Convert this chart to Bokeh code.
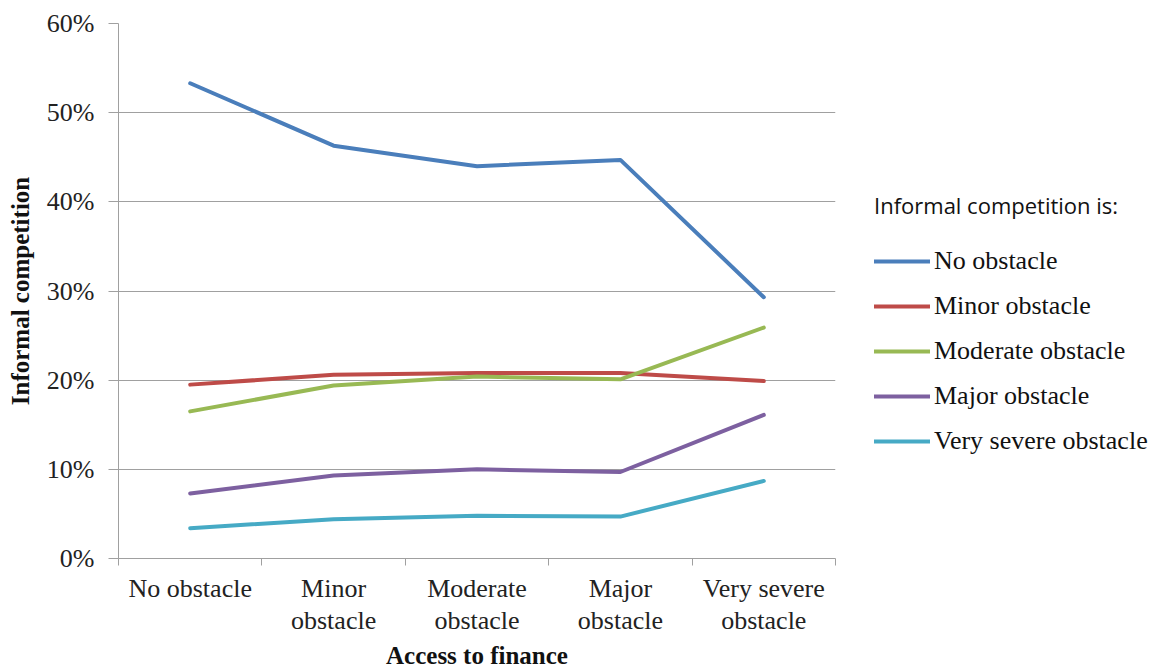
from bokeh.plotting import figure
from bokeh.models import (ColumnDataSource, Legend, LegendItem, FixedTicker,
                          NumeralTickFormatter, Range1d)
from bokeh.embed import file_html
from bokeh.resources import INLINE

categories = ["No obstacle", "Minor obstacle", "Moderate obstacle",
              "Major obstacle", "Very severe obstacle"]
tick_labels = ["No obstacle", "Minor\nobstacle", "Moderate\nobstacle",
               "Major\nobstacle", "Very severe\nobstacle"]
series_names = ["No obstacle", "Minor obstacle", "Moderate obstacle",
                "Major obstacle", "Very severe obstacle"]
no_obstacle = [0.533, 0.463, 0.440, 0.447, 0.293]
minor_obstacle = [0.195, 0.206, 0.208, 0.208, 0.199]
moderate_obstacle = [0.165, 0.194, 0.204, 0.201, 0.259]
major_obstacle = [0.073, 0.093, 0.100, 0.097, 0.161]
very_severe_obstacle = [0.034, 0.044, 0.048, 0.047, 0.087]
colors = ["#4A7EBB", "#BE4B48", "#98B954", "#7D60A0", "#46AAC5"]

values = [no_obstacle, minor_obstacle, moderate_obstacle, major_obstacle,
          very_severe_obstacle]
xpos = [i + 0.5 for i in range(len(categories))]

FL, FT, FW, FH = 118, 23, 717, 535
p = figure(frame_width=FW, frame_height=FH, output_backend="svg", toolbar_location=None,
           x_range=Range1d(0, len(categories)), y_range=Range1d(0, 0.6),
           min_border_left=FL, min_border_right=10,
           min_border_top=FT, min_border_bottom=100)
p.outline_line_color = None
p.background_fill_color = "white"
p.border_fill_color = "white"

serif = "Liberation Serif"
grid_col = "#a0a0a0"

# y axis
p.yaxis.ticker = FixedTicker(ticks=[0, 0.1, 0.2, 0.3, 0.4, 0.5, 0.6])
p.yaxis.formatter = NumeralTickFormatter(format="0%")
p.yaxis.axis_line_color = grid_col
p.yaxis.major_tick_line_color = grid_col
p.yaxis.major_tick_out = 10
p.yaxis.major_tick_in = 0
p.yaxis.minor_tick_line_color = None
p.yaxis.major_label_text_font = serif
p.yaxis.major_label_text_font_size = "26px"
p.yaxis.major_label_text_color = "#222222"
p.yaxis.major_label_standoff = 14
p.yaxis.axis_label = "Informal competition"
p.yaxis.axis_label_text_font = serif
p.yaxis.axis_label_text_font_style = "bold"
p.yaxis.axis_label_text_font_size = "25px"
p.yaxis.axis_label_text_color = "#111111"
p.yaxis.axis_label_standoff = 10

# x axis
p.xaxis.ticker = FixedTicker(ticks=xpos, minor_ticks=list(range(len(categories) + 1)))
p.xaxis.major_label_overrides = {x: lab for x, lab in zip(xpos, tick_labels)}
p.xaxis.axis_line_color = grid_col
p.xaxis.major_tick_line_color = None
p.xaxis.minor_tick_line_color = grid_col
p.xaxis.minor_tick_out = 7
p.xaxis.minor_tick_in = 0
p.xaxis.major_label_text_font = serif
p.xaxis.major_label_text_font_size = "26px"
p.xaxis.major_label_text_color = "#222222"
p.xaxis.major_label_text_line_height = 1.12
p.xaxis.major_label_standoff = 8
p.xaxis.axis_label = "Access to finance"
p.xaxis.axis_label_text_font = serif
p.xaxis.axis_label_text_font_style = "bold"
p.xaxis.axis_label_text_font_size = "25px"
p.xaxis.axis_label_text_color = "#111111"
p.xaxis.axis_label_standoff = 4

p.xgrid.grid_line_color = None
p.ygrid.grid_line_color = grid_col
p.ygrid.grid_line_width = 1

items = []
for name, vals, col in zip(series_names, values, colors):
    src = ColumnDataSource(dict(x=xpos, y=vals))
    r = p.line("x", "y", source=src, line_color=col, line_width=4,
               line_cap="round", line_join="round")
    items.append(LegendItem(label=name, renderers=[r]))

legend = Legend(items=items, location=(39, 102), orientation="vertical")
legend.title = "Informal competition is:"
legend.title_text_font = "Open Sans"
legend.title_text_font_size = "22px"
legend.title_text_font_style = "normal"
legend.title_text_color = "#111111"
legend.title_standoff = 26
legend.label_text_font = serif
legend.label_text_font_size = "26px"
legend.label_text_color = "#111111"
legend.glyph_width = 56
legend.glyph_height = 26
legend.label_height = 26
legend.label_standoff = 4
legend.spacing = 15
legend.padding = 4
legend.margin = 0
legend.border_line_color = None
legend.background_fill_alpha = 0
p.add_layout(legend, "right")

open("out.html", "w").write(file_html(p, INLINE))
